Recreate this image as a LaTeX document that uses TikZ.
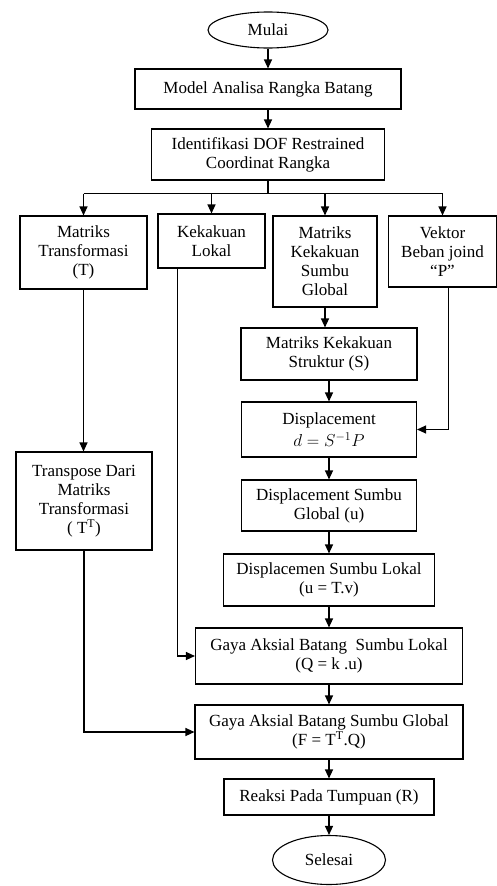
\documentclass[tikz,border=0pt]{standalone}
\usepackage{fontspec}
\setmainfont{Liberation Serif}
\usetikzlibrary{shapes.geometric,arrows.meta}

\begin{document}
\begin{tikzpicture}[x=1pt,y=-1pt, font=\fontsize{17}{19}\selectfont, box/.style={rectangle, draw=black, line width=1.1pt, align=center, inner sep=0pt}, term/.style={ellipse, draw=black, line width=1.1pt, inner sep=0pt}, arr/.style={line width=1.2pt,-{Triangle[length=9pt,width=8pt]}}, ln/.style={line width=1.2pt}]
	\useasboundingbox (0,0) rectangle (497,886);
	\node[term, minimum width=120pt, minimum height=36pt] (mulai) at (268,30) {Mulai};
	\node[box, minimum width=266pt, minimum height=40pt] (model) at (268,89) {Model Analisa Rangka Batang};
	\node[box, minimum width=233pt, minimum height=51pt] (ident) at (268,154.5) {Identifikasi DOF Restrained\\Coordinat Rangka};
	\node[box, minimum width=127pt, minimum height=73pt] (mtrans) at (83.5,252.5) {Matriks\\Transformasi\\(T)};
	\node[box, minimum width=107pt, minimum height=54pt] (klokal) at (211.5,241) {Kekakuan\\Lokal};
	\node[box, minimum width=104pt, minimum height=91pt] (mkglobal) at (325,261.5) {Matriks\\Kekakuan\\Sumbu\\Global};
	\node[box, minimum width=108pt, minimum height=71pt] (vektor) at (442.5,251.5) {Vektor\\Beban joind\\“P”};
	\node[box, minimum width=176pt, minimum height=52pt] (struktur) at (329,354) {Matriks Kekakuan\\Struktur (S)};
	\node[box, minimum width=175pt, minimum height=55pt] (displ) at (329,429.5) {Displacement\\[3pt]$d = S^{-1}P$};
	\node[box, minimum width=175pt, minimum height=51pt] (dglobal) at (329,505.5) {Displacement Sumbu\\Global (u)};
	\node[box, minimum width=211pt, minimum height=52pt] (dlokal) at (329,580) {Displacemen Sumbu Lokal\\(u = T.v)};
	\node[box, minimum width=267pt, minimum height=56pt] (galokal) at (329,656) {Gaya Aksial Batang~ Sumbu Lokal\\(Q = k .u)};
	\node[box, minimum width=136pt, minimum height=98pt] (transpose) at (84,501) {Transpose Dari\\Matriks\\Transformasi\\( T\textsuperscript{T})};
	\node[box, minimum width=268pt, minimum height=54pt] (gaglobal) at (329,732) {Gaya Aksial Batang Sumbu Global\\(F = T\textsuperscript{T}.Q)};
	\node[box, minimum width=210pt, minimum height=36pt] (reaksi) at (329,797) {Reaksi Pada Tumpuan (R)};
	\node[term, minimum width=113pt, minimum height=49pt] (selesai) at (329,860) {Selesai};
	% top part
	\draw[arr] (mulai) -- (model);
	\draw[arr] (model) -- (ident);
	\draw[ln] (ident.south) -- ++(0,13) coordinate (split);
	\draw[ln] (mtrans.north |- split) -- (vektor.north |- split);
	\foreach \n in {mtrans,klokal,mkglobal,vektor}
		\draw[arr] (\n.north |- split) -- (\n.north);
	% side branches
	\draw[arr] (mtrans.south) -- (mtrans.south |- transpose.north);
	\draw[arr] ([xshift=20pt]klokal.south west) |- (galokal.west);
	\draw[arr] ([xshift=6pt]vektor.south) |- (displ.east);
	\draw[arr] (transpose.south) |- (gaglobal.west);
	\draw[arr] (mkglobal.south) -- (mkglobal.south |- struktur.north);
	% main column
	\foreach \a/\b in {struktur/displ, displ/dglobal, dglobal/dlokal, dlokal/galokal, galokal/gaglobal, gaglobal/reaksi, reaksi/selesai}
		\draw[arr] (\a) -- (\b);
\end{tikzpicture}
\end{document}
